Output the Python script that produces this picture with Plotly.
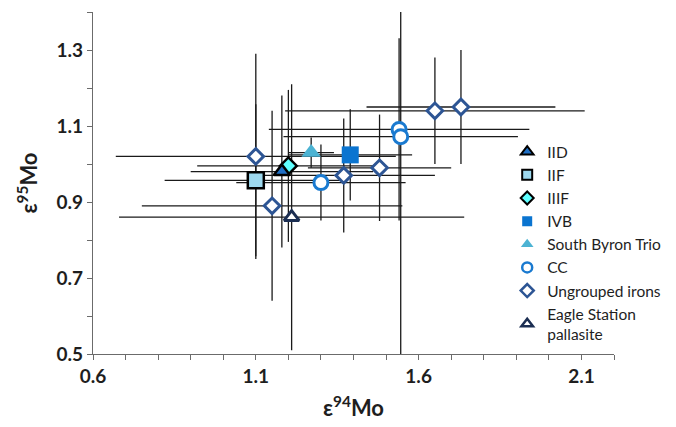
import plotly.graph_objects as go

# ---- data (ε94Mo, ε95Mo, errors) ----
iid_x = [1.18]; iid_y = [0.98]; iid_xe = [0.28]; iid_ye = [0.20]
iif_x = [1.10]; iif_y = [0.957]; iif_xe = [0.28]; iif_ye = [0.20]
iiif_x = [1.20]; iiif_y = [0.995]; iiif_xe = [0.28]; iiif_ye = [0.20]
ivb_x = [1.39]; ivb_y = [1.024]; ivb_xe = [0.19]; ivb_ye = [0.12]
sbt_x = [1.27]; sbt_y = [1.03]; sbt_xe = [0.07]; sbt_ye = [0.04]
cc_x = [1.30, 1.54, 1.545]; cc_y = [0.951, 1.091, 1.072]
cc_xe = [0.26, 0.40, 0.36]; cc_ye = [0.10, 0.24, 0.60]
ung_x = [1.10, 1.15, 1.37, 1.48, 1.65, 1.73]
ung_y = [1.02, 0.89, 0.97, 0.99, 1.14, 1.15]
ung_xe = [0.43, 0.40, 0.28, 0.22, 0.46, 0.29]
ung_ye = [0.27, 0.25, 0.15, 0.14, 0.14, 0.15]
es_x = [1.21]; es_y = [0.86]; es_xe = [0.53]; es_ye = [0.35]

x_ticks = [0.6, 1.1, 1.6, 2.1]
y_ticks = [0.5, 0.7, 0.9, 1.1, 1.3]

series = [
    ("IID", iid_x, iid_y, iid_xe, iid_ye,
     dict(symbol="triangle-up", size=14, color="#1F6FC5", line=dict(color="black", width=2.5)),
     dict(symbol="triangle-up", size=11, color="#1F6FC5", line=dict(color="black", width=2))),
    ("IIF", iif_x, iif_y, iif_xe, iif_ye,
     dict(symbol="square", size=16, color="#9DD8EE", line=dict(color="black", width=2.5)),
     dict(symbol="square", size=10, color="#9DD8EE", line=dict(color="black", width=2))),
    ("IIIF", iiif_x, iiif_y, iiif_xe, iiif_ye,
     dict(symbol="diamond", size=13, color="#5FFFFF", line=dict(color="black", width=2.5)),
     dict(symbol="diamond", size=10, color="#5FFFFF", line=dict(color="black", width=2))),
    ("IVB", ivb_x, ivb_y, ivb_xe, ivb_ye,
     dict(symbol="square", size=17, color="#0A74D0", line=dict(width=0)),
     dict(symbol="square", size=10, color="#0A74D0", line=dict(width=0))),
    ("South Byron Trio", sbt_x, sbt_y, sbt_xe, sbt_ye,
     dict(symbol="triangle-up", size=17, color="#4CB3D3", line=dict(width=0)),
     dict(symbol="triangle-up", size=11, color="#4CB3D3", line=dict(width=0))),
    ("CC", cc_x, cc_y, cc_xe, cc_ye,
     dict(symbol="circle", size=14, color="white", line=dict(color="#1A7AD0", width=3)),
     dict(symbol="circle", size=10, color="white", line=dict(color="#1A7AD0", width=2.5))),
    ("Ungrouped irons", ung_x, ung_y, ung_xe, ung_ye,
     dict(symbol="diamond", size=12, color="white", line=dict(color="#2D5594", width=3)),
     dict(symbol="diamond", size=10, color="white", line=dict(color="#2D5594", width=2.5))),
    ("Eagle Station<br>pallasite", es_x, es_y, es_xe, es_ye,
     dict(symbol="triangle-up", size=13, color="white", line=dict(color="#1B2E52", width=3)),
     dict(symbol="triangle-up", size=10, color="white", line=dict(color="#1B2E52", width=2.5))),
]

fig = go.Figure()

# error bars first (behind every marker)
for name, xs, ys, xe, ye, mk, lmk in series:
    fig.add_trace(go.Scatter(
        x=xs, y=ys, mode="markers", showlegend=False, hoverinfo="skip",
        marker=dict(size=1, opacity=0),
        error_x=dict(type="data", array=xe, color="#1a1a1a", thickness=1.3, width=0),
        error_y=dict(type="data", array=ye, color="#1a1a1a", thickness=1.3, width=0),
    ))

# markers
for name, xs, ys, xe, ye, mk, lmk in reversed(series):
    fig.add_trace(go.Scatter(x=xs, y=ys, mode="markers", name=name,
                             showlegend=False, marker=mk))

# legend entries
for name, xs, ys, xe, ye, mk, lmk in series:
    fig.add_trace(go.Scatter(x=[None], y=[None], mode="markers", name=name,
                             marker=lmk, showlegend=True))

axis_common = dict(
    showgrid=False, zeroline=False, showline=True,
    linecolor="#6b6b6b", linewidth=1.3,
    ticks="outside", ticklen=5, tickcolor="#6b6b6b", tickwidth=1.3,
    tickfont=dict(family="Lato", size=19, color="#1e1e1e", weight="bold"),
    minor=dict(dtick=0.1, ticks="outside", ticklen=5, tickcolor="#6b6b6b", tickwidth=1.3),
)

fig.update_layout(
    width=668, height=419,
    margin=dict(l=85, r=62, t=4, b=73),
    paper_bgcolor="white", plot_bgcolor="white",
    showlegend=True,
    legend=dict(x=0.795, y=0.64, xanchor="left", yanchor="top",
                font=dict(family="Lato", size=15.5, color="#1e1e1e"),
                bgcolor="rgba(0,0,0,0)", itemwidth=30, tracegroupgap=0),
    xaxis=dict(range=[0.6, 2.2], tickvals=x_ticks, ticktext=[f"{v:.1f}" for v in x_ticks],
               title=dict(text="<b>ε<sup>94</sup>Mo</b>", standoff=14,
                          font=dict(family="Lato", size=22, color="#1e1e1e")),
               **axis_common),
    yaxis=dict(range=[0.5, 1.4], tickvals=y_ticks, ticktext=[f"{v:.1f}" for v in y_ticks],
               title=dict(text="<b>ε<sup>95</sup>Mo</b>", standoff=12,
                          font=dict(family="Lato", size=22, color="#1e1e1e")),
               **axis_common),
)
fig.update_xaxes(minor_tick0=0.6)
fig.update_yaxes(minor_tick0=0.5)

fig.write_html("out.html")
